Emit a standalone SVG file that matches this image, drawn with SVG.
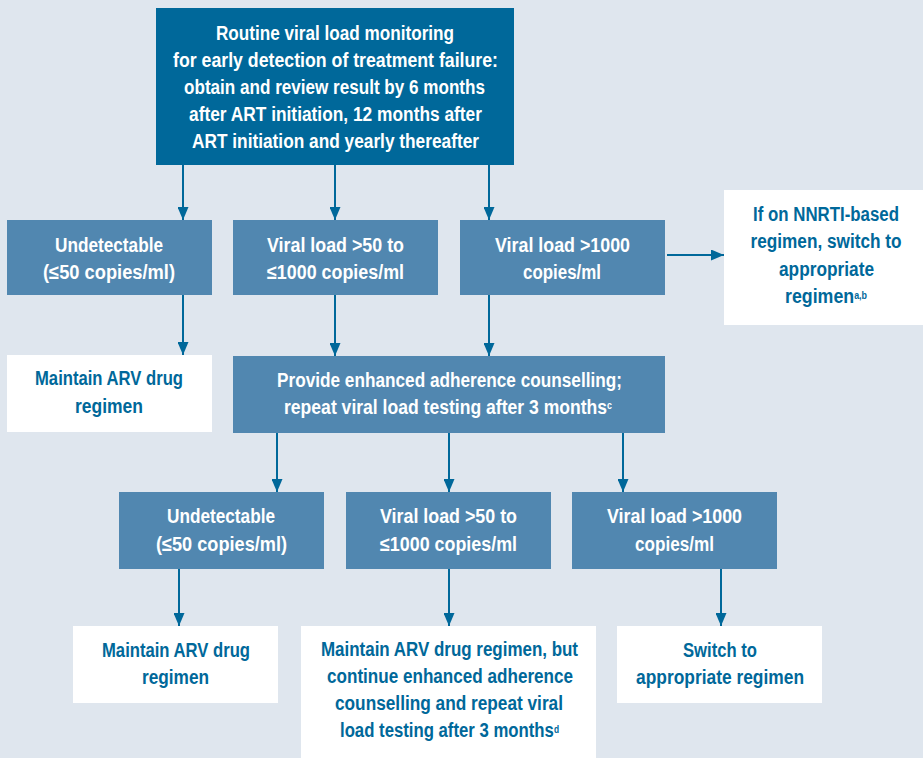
<svg xmlns="http://www.w3.org/2000/svg" width="923" height="758" viewBox="0 0 923 758">
<style>
.bg{fill:#dfe6ee}
.dark{fill:#00689a}
.mid{fill:#5187b0}
.white{fill:#ffffff}
text{font-family:"Liberation Sans",Arial,sans-serif;font-weight:bold;font-size:20px}
.tw{fill:#ffffff}
.tb{fill:#00689a}
.c{text-anchor:middle}
.sup{font-size:10px}
.conn line{stroke:#00689a;stroke-width:2;fill:none}
</style>
<defs>
<marker id="ah" markerUnits="userSpaceOnUse" markerWidth="13" markerHeight="11" refX="13" refY="5.5" orient="auto">
<path d="M0,0 L13,5.5 L0,11 z" fill="#00689a"/>
</marker>
</defs>
<rect class="bg" x="0" y="0" width="923" height="758"/>

<g id="connectors" class="conn">
<line x1="183" y1="165" x2="183" y2="220" marker-end="url(#ah)"/>
<line x1="335" y1="165" x2="335" y2="220" marker-end="url(#ah)"/>
<line x1="489" y1="165" x2="489" y2="220" marker-end="url(#ah)"/>
<line x1="667" y1="255" x2="724" y2="255" marker-end="url(#ah)"/>
<line x1="183" y1="295" x2="183" y2="355" marker-end="url(#ah)"/>
<line x1="335" y1="295" x2="335" y2="356" marker-end="url(#ah)"/>
<line x1="489" y1="295" x2="489" y2="356" marker-end="url(#ah)"/>
<line x1="277" y1="433" x2="277" y2="492" marker-end="url(#ah)"/>
<line x1="449" y1="433" x2="449" y2="492" marker-end="url(#ah)"/>
<line x1="623" y1="433" x2="623" y2="492" marker-end="url(#ah)"/>
<line x1="179" y1="569" x2="179" y2="626" marker-end="url(#ah)"/>
<line x1="449" y1="569" x2="449" y2="626" marker-end="url(#ah)"/>
<line x1="721" y1="569" x2="721" y2="626" marker-end="url(#ah)"/>
</g>

<g id="n-top">
<rect class="dark" x="156" y="8" width="358" height="157"/>
<text class="tw" x="216" y="39.5" textLength="238" lengthAdjust="spacingAndGlyphs">Routine viral load monitoring</text>
<text class="tw" x="173" y="67" textLength="325" lengthAdjust="spacingAndGlyphs">for early detection of treatment failure:</text>
<text class="tw" x="184" y="94" textLength="301" lengthAdjust="spacingAndGlyphs">obtain and review result by 6 months</text>
<text class="tw" x="189" y="121" textLength="293" lengthAdjust="spacingAndGlyphs">after ART initiation, 12 months after</text>
<text class="tw" x="192" y="148" textLength="287" lengthAdjust="spacingAndGlyphs">ART initiation and yearly thereafter</text>
</g>

<g id="n-undet1">
<rect class="mid" x="7" y="220" width="205" height="75"/>
<text class="tw" x="55" y="252" textLength="108" lengthAdjust="spacingAndGlyphs">Undetectable</text>
<text class="tw" x="43" y="279" textLength="132" lengthAdjust="spacingAndGlyphs">(≤50 copies/ml)</text>
</g>

<g id="n-vl50-1">
<rect class="mid" x="233" y="220" width="205" height="75"/>
<text class="tw" x="267" y="251.5" textLength="137" lengthAdjust="spacingAndGlyphs">Viral load &gt;50 to</text>
<text class="tw" x="267" y="279" textLength="137" lengthAdjust="spacingAndGlyphs">≤1000 copies/ml</text>
</g>

<g id="n-vl1000-1">
<rect class="mid" x="460" y="220" width="205" height="75"/>
<text class="tw" x="495" y="251.5" textLength="135" lengthAdjust="spacingAndGlyphs">Viral load &gt;1000</text>
<text class="tw" x="523" y="279" textLength="78" lengthAdjust="spacingAndGlyphs">copies/ml</text>
</g>

<g id="n-nnrti">
<rect class="white" x="724" y="190" width="199" height="135"/>
<text class="tb c" x="826" y="221" textLength="146" lengthAdjust="spacingAndGlyphs">If on NNRTI-based</text>
<text class="tb c" x="826" y="248" textLength="151" lengthAdjust="spacingAndGlyphs">regimen, switch to</text>
<text class="tb c" x="826.5" y="275.5" textLength="95" lengthAdjust="spacingAndGlyphs">appropriate</text>
<text class="tb c" x="826" y="302.5" textLength="82" lengthAdjust="spacingAndGlyphs">regimen<tspan class="sup" dy="-4">a,b</tspan></text>
</g>

<g id="n-maintain1">
<rect class="white" x="7" y="355" width="205" height="77"/>
<text class="tb" x="35" y="385" textLength="148" lengthAdjust="spacingAndGlyphs">Maintain ARV drug</text>
<text class="tb" x="75" y="413" textLength="68" lengthAdjust="spacingAndGlyphs">regimen</text>
</g>

<g id="n-provide">
<rect class="mid" x="233" y="356" width="432" height="77"/>
<text class="tw" x="277" y="387" textLength="345" lengthAdjust="spacingAndGlyphs">Provide enhanced adherence counselling;</text>
<text class="tw" x="284" y="414" textLength="328" lengthAdjust="spacingAndGlyphs">repeat viral load testing after 3 months<tspan class="sup" dy="-5">c</tspan></text>
</g>

<g id="n-undet2">
<rect class="mid" x="119" y="492" width="205" height="77"/>
<text class="tw" x="167" y="523" textLength="108" lengthAdjust="spacingAndGlyphs">Undetectable</text>
<text class="tw" x="156" y="551" textLength="131" lengthAdjust="spacingAndGlyphs">(≤50 copies/ml)</text>
</g>

<g id="n-vl50-2">
<rect class="mid" x="346" y="492" width="205" height="77"/>
<text class="tw" x="380" y="523" textLength="137" lengthAdjust="spacingAndGlyphs">Viral load &gt;50 to</text>
<text class="tw" x="380" y="551" textLength="137" lengthAdjust="spacingAndGlyphs">≤1000 copies/ml</text>
</g>

<g id="n-vl1000-2">
<rect class="mid" x="572" y="492" width="205" height="77"/>
<text class="tw" x="607" y="523" textLength="135" lengthAdjust="spacingAndGlyphs">Viral load &gt;1000</text>
<text class="tw" x="635" y="551" textLength="79" lengthAdjust="spacingAndGlyphs">copies/ml</text>
</g>

<g id="n-maintain2">
<rect class="white" x="73" y="626" width="205" height="77"/>
<text class="tb" x="102" y="657" textLength="148" lengthAdjust="spacingAndGlyphs">Maintain ARV drug</text>
<text class="tb" x="142" y="684" textLength="67" lengthAdjust="spacingAndGlyphs">regimen</text>
</g>

<g id="n-maintain-but">
<rect class="white" x="301" y="626" width="295" height="140"/>
<text class="tb" x="321" y="656" textLength="257" lengthAdjust="spacingAndGlyphs">Maintain ARV drug regimen, but</text>
<text class="tb" x="327" y="683" textLength="246" lengthAdjust="spacingAndGlyphs">continue enhanced adherence</text>
<text class="tb" x="335" y="710" textLength="228" lengthAdjust="spacingAndGlyphs">counselling and repeat viral</text>
<text class="tb" x="340" y="737" textLength="219" lengthAdjust="spacingAndGlyphs">load testing after 3 months<tspan class="sup" dy="-4">d</tspan></text>
</g>

<g id="n-switch">
<rect class="white" x="617" y="626" width="205" height="77"/>
<text class="tb" x="683" y="657" textLength="74" lengthAdjust="spacingAndGlyphs">Switch to</text>
<text class="tb" x="636" y="684" textLength="168" lengthAdjust="spacingAndGlyphs">appropriate regimen</text>
</g>
</svg>
